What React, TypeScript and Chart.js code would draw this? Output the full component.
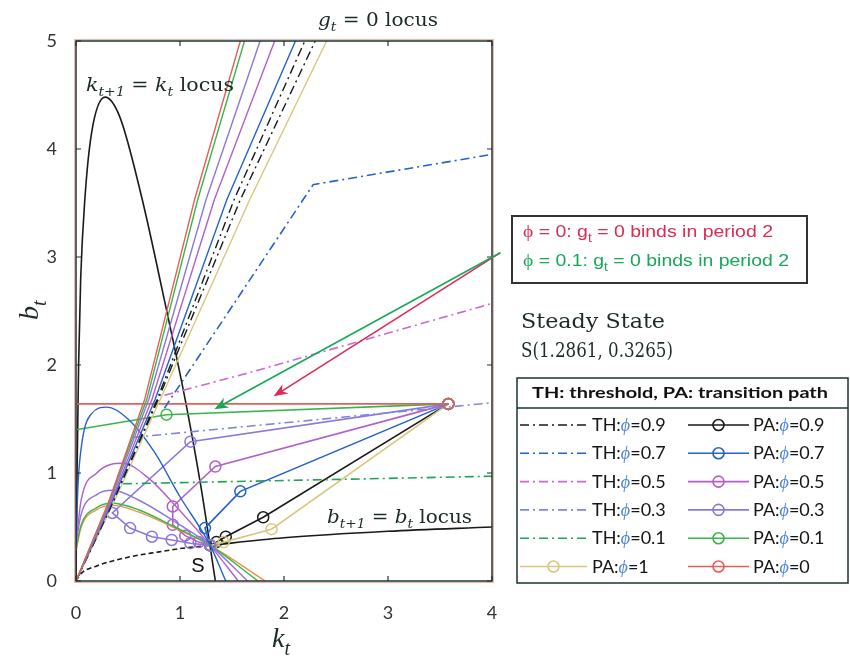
import React, { useEffect, useRef } from 'react';
import { Chart, registerables } from 'chart.js';
Chart.register(...registerables);

// ---------- tick labels ----------
const kTicks = [0, 1, 2, 3, 4];
const bTicks = [0, 1, 2, 3, 4, 5];

// ---------- loci ----------
const kLocusK = [0, 0.01, 0.025, 0.045, 0.087, 0.15, 0.28, 0.42, 0.63, 0.85, 1.05, 1.2, 1.34];
const kLocusB = [0, 1.0, 2.0, 2.8, 3.56, 4.15, 4.48, 4.3, 3.56, 2.6, 1.68, 0.88, 0];
const bLocusK = [0, 0.05, 0.2, 0.5, 0.8, 1.0, 1.29, 2, 3, 4];
const bLocusB = [0, 0.07, 0.14, 0.22, 0.27, 0.3, 0.33, 0.4, 0.46, 0.5];

// g_t = 0 loci (one per phi)
const fanB = [0, 0.72, 1.68, 3.53, 5];
const fanK0 = [0, 0.31, 0.66, 1.14, 1.58];
const fanK01 = [0, 0.31, 0.68, 1.17, 1.62];
const fanK03 = [0, 0.32, 0.7, 1.25, 1.77];
const fanK05 = [0, 0.33, 0.73, 1.33, 1.91];
const fanK07 = [0, 0.34, 0.76, 1.45, 2.11];
const fanK09 = [0, 0.35, 0.78, 1.52, 2.2];
const fanK09b = [0, 0.35, 0.79, 1.58, 2.3];
const fanK1 = [0, 0.36, 0.81, 1.67, 2.41];

// thresholds
const th07K = [0.85, 2.28, 4];
const th07B = [1.6, 3.67, 3.95];
const th05K = [0.85, 1.67, 4];
const th05B = [1.72, 1.93, 2.57];
const th03K = [0.55, 4];
const th03B = [1.33, 1.65];
const th01K = [0.45, 4];
const th01B = [0.9, 0.97];

// transition paths from (3.58, 1.64)
const pa09K = [3.58, 1.8, 1.44, 1.35, 1.29];
const pa09B = [1.64, 0.59, 0.41, 0.36, 0.33];
const pa1K = [3.58, 1.88, 1.42, 1.3];
const pa1B = [1.64, 0.48, 0.36, 0.33];
const pa07K = [3.58, 1.58, 1.24, 1.29];
const pa07B = [1.64, 0.83, 0.49, 0.33];
const pa05K = [3.58, 1.34, 0.93, 0.93, 1.05, 1.18, 1.29];
const pa05B = [1.64, 1.06, 0.69, 0.52, 0.42, 0.36, 0.33];
const pa03K = [3.58, 1.1, 0.35, 0.52, 0.73, 0.92, 1.1, 1.29];
const pa03B = [1.64, 1.29, 0.63, 0.49, 0.41, 0.38, 0.35, 0.33];
const pa01K = [3.58, 0.87, 0];
const pa01B = [1.64, 1.54, 1.4];
const pa0K = [3.58, 0];
const pa0B = [1.64, 1.64];

// paths from low initial capital
const lowBlueK = [0, 0.02, 0.06, 0.15, 0.3, 0.5, 0.75, 1.0, 1.29, 1.44];
const lowBlueB = [0.35, 0.9, 1.3, 1.55, 1.61, 1.5, 1.2, 0.78, 0.33, 0];
const lowPurpleK = [0, 0.05, 0.2, 0.45, 0.7, 1.0, 1.29, 1.56];
const lowPurpleB = [0.35, 0.75, 1.0, 1.09, 0.95, 0.65, 0.33, 0];
const lowVioletK = [0, 0.05, 0.2, 0.35, 0.6, 0.95, 1.29, 1.65];
const lowVioletB = [0.35, 0.62, 0.8, 0.84, 0.75, 0.55, 0.33, 0];
const lowGreenK = [0, 0.05, 0.2, 0.35, 0.6, 0.95, 1.29, 1.75];
const lowGreenB = [0.3, 0.52, 0.68, 0.72, 0.66, 0.5, 0.33, 0];
const lowRedK = [0, 0.05, 0.2, 0.35, 0.6, 0.95, 1.29, 1.82];
const lowRedB = [0.28, 0.5, 0.66, 0.7, 0.64, 0.49, 0.33, 0];

// annotation arrows (data coords): start, red tip, green tip
const arrowStart = [4.08, 3.04];
const arrowRedTip = [1.9, 1.71];
const arrowGreenTip = [1.33, 1.59];

// legend
const legendLeft = ['TH:0.9', 'TH:0.7', 'TH:0.5', 'TH:0.3', 'TH:0.1', 'PA:1'];
const legendRight = ['PA:0.9', 'PA:0.7', 'PA:0.5', 'PA:0.3', 'PA:0.1', 'PA:0'];

// ---------- styles ----------
const C_BLACK = '#1a1a1a';
const C_BLUE = '#2563c9';
const C_PURPLE = '#b35fca';
const C_VIOLET = '#8a78dc';
const C_GREEN = '#3ab54a';
const C_GREEN_TH = '#22a35a';
const C_YELLOW = '#d8c77e';
const C_RED = '#e2605a';
const C_ORANGE = '#e8944a';
const FRAME = '#1e3333';
const DASHDOT = [9, 4, 2, 4];

const legendColors: Record<string, string> = {
  'TH:0.9': C_BLACK, 'TH:0.7': C_BLUE, 'TH:0.5': '#c96ad2', 'TH:0.3': '#7f86e0', 'TH:0.1': C_GREEN_TH, 'PA:1': C_YELLOW,
  'PA:0.9': C_BLACK, 'PA:0.7': C_BLUE, 'PA:0.5': C_PURPLE, 'PA:0.3': C_VIOLET, 'PA:0.1': C_GREEN, 'PA:0': C_RED,
};

const pts = (K: number[], B: number[]) => K.map((k, i) => ({ x: k, y: B[i] }));

function line(K: number[], B: number[], color: string, extra: any = {}) {
  return {
    data: pts(K, B),
    borderColor: color,
    backgroundColor: color,
    borderWidth: 1.4,
    pointRadius: 0,
    fill: false,
    tension: 0,
    ...extra,
  };
}
const SMOOTH = { cubicInterpolationMode: 'monotone' };
function path(K: number[], B: number[], color: string, radii?: number[]) {
  return line(K, B, color, {
    borderWidth: 1.6,
    pointRadius: radii || K.map(() => 5.5),
    pointBorderColor: color,
    pointBackgroundColor: 'rgba(0,0,0,0)',
    pointBorderWidth: 1.5,
    pointStyle: 'circle',
  });
}

type Run = { t: string; it?: boolean; sub?: boolean; color?: string; fam?: string; bold?: boolean };

function drawRuns(ctx: CanvasRenderingContext2D, runs: Run[], x: number, y: number, size: number, fam: string, color: string, targetW?: number) {
  const fontOf = (r: Run) => `${r.it ? 'italic ' : ''}${r.bold ? 'bold ' : ''}${r.sub ? Math.round(size * 0.7) : size}px ${r.fam || fam}`;
  let w = 0;
  for (const r of runs) { ctx.font = fontOf(r); w += ctx.measureText(r.t).width; }
  const sx = targetW ? targetW / w : 1;
  ctx.save();
  ctx.translate(x, y);
  ctx.scale(sx, 1);
  ctx.textAlign = 'left';
  ctx.textBaseline = 'alphabetic';
  let cx = 0;
  for (const r of runs) {
    ctx.font = fontOf(r);
    ctx.fillStyle = r.color || color;
    ctx.fillText(r.t, cx, r.sub ? size * 0.28 : 0);
    cx += ctx.measureText(r.t).width;
  }
  ctx.restore();
}

function drawArrow(ctx: CanvasRenderingContext2D, x1: number, y1: number, x2: number, y2: number, color: string) {
  const ang = Math.atan2(y2 - y1, x2 - x1);
  const L = 14, W = 5.5;
  ctx.save();
  ctx.strokeStyle = color; ctx.fillStyle = color; ctx.lineWidth = 1.6;
  ctx.beginPath();
  ctx.moveTo(x1, y1);
  ctx.lineTo(x2 - Math.cos(ang) * L * 0.7, y2 - Math.sin(ang) * L * 0.7);
  ctx.stroke();
  ctx.translate(x2, y2); ctx.rotate(ang);
  ctx.beginPath();
  ctx.moveTo(0, 0); ctx.lineTo(-L, -W); ctx.lineTo(-L * 0.7, 0); ctx.lineTo(-L, W); ctx.closePath();
  ctx.fill();
  ctx.restore();
}

const SERIF = '"DejaVu Serif"';
const SANS = '"Liberation Sans"';
const LEG = 'Lato';

const overlay = {
  id: 'overlay',
  afterDatasetsDraw(chart: any) {
    const { ctx, chartArea: a, scales } = chart;
    const x = scales.x, y = scales.y;
    ctx.save();
    // faint reddish outer rim, then dark frame
    ctx.strokeStyle = 'rgba(230,120,100,0.55)'; ctx.lineWidth = 1;
    ctx.strokeRect(a.left - 1.5, a.top - 1.5, a.right - a.left + 3, a.bottom - a.top + 3);
    ctx.strokeStyle = FRAME; ctx.lineWidth = 1.5;
    ctx.strokeRect(a.left, a.top, a.right - a.left, a.bottom - a.top);
    ctx.lineWidth = 1.2;
    ctx.beginPath();
    for (const t of kTicks) {
      const px = x.getPixelForValue(t);
      ctx.moveTo(px, a.bottom); ctx.lineTo(px, a.bottom - 5);
      ctx.moveTo(px, a.top); ctx.lineTo(px, a.top + 5);
    }
    for (const t of bTicks) {
      const py = y.getPixelForValue(t);
      ctx.moveTo(a.left, py); ctx.lineTo(a.left + 5, py);
      ctx.moveTo(a.right, py); ctx.lineTo(a.right - 5, py);
    }
    ctx.stroke();
    ctx.restore();
  },
  afterDraw(chart: any) {
    const { ctx, scales } = chart;
    const x = scales.x, y = scales.y;
    const X = (k: number) => x.getPixelForValue(k);
    const Y = (b: number) => y.getPixelForValue(b);
    ctx.save();
    const DARK = '#1c2a2a';

    // locus labels
    drawRuns(ctx, [{ t: 'k', it: true }, { t: 't+1', it: true, sub: true }, { t: ' = ' }, { t: 'k', it: true }, { t: 't', it: true, sub: true }, { t: ' locus' }], 86, 91, 19, SERIF, DARK, 148);
    drawRuns(ctx, [{ t: 'g', it: true }, { t: 't', it: true, sub: true }, { t: ' = 0 locus' }], 318, 26, 19, SERIF, DARK, 120);
    drawRuns(ctx, [{ t: 'b', it: true }, { t: 't+1', it: true, sub: true }, { t: ' = ' }, { t: 'b', it: true }, { t: 't', it: true, sub: true }, { t: ' locus' }], 327, 523, 19, SERIF, DARK, 145);

    // S label
    ctx.font = `20px ${SANS}`; ctx.fillStyle = '#111'; ctx.textAlign = 'center'; ctx.textBaseline = 'alphabetic';
    ctx.fillText('S', 198, 572);

    // axis titles
    drawRuns(ctx, [{ t: 'k', it: true }, { t: 't', it: true, sub: true }], 272, 647, 28, '"Liberation Serif"', DARK);
    ctx.save();
    ctx.translate(38, 320); ctx.rotate(-Math.PI / 2);
    drawRuns(ctx, [{ t: 'b', it: true }, { t: 't', it: true, sub: true }], 0, 0, 28, '"Liberation Serif"', DARK);
    ctx.restore();

    // annotation arrows
    drawArrow(ctx, X(arrowStart[0]), Y(arrowStart[1]), X(arrowRedTip[0]), Y(arrowRedTip[1]), '#dc2b55');
    drawArrow(ctx, X(arrowStart[0]), Y(arrowStart[1]), X(arrowGreenTip[0]), Y(arrowGreenTip[1]), '#19a85a');

    // annotation box
    ctx.fillStyle = '#fff';
    ctx.fillRect(512, 216, 295, 67);
    ctx.strokeStyle = '#333'; ctx.lineWidth = 2;
    ctx.strokeRect(512, 216, 295, 67);
    drawRuns(ctx, [{ t: 'ϕ', fam: '"Liberation Serif"' }, { t: ' = 0: g' }, { t: 't', sub: true }, { t: ' = 0 binds in period 2' }], 523, 237, 17, SANS, '#dc2b55', 250);
    drawRuns(ctx, [{ t: 'ϕ', fam: '"Liberation Serif"' }, { t: ' = 0.1: g' }, { t: 't', sub: true }, { t: ' = 0 binds in period 2' }], 523, 266, 17, SANS, '#19a85a', 266);

    // steady state
    drawRuns(ctx, [{ t: 'Steady State' }], 521, 328, 21, SERIF, DARK, 144);
    drawRuns(ctx, [{ t: 'S(1.2861, 0.3265)' }], 521, 357, 21, SERIF, DARK, 152);

    // legend
    ctx.fillStyle = '#fff';
    ctx.fillRect(517, 378, 331, 205);
    ctx.strokeStyle = '#1e3333'; ctx.lineWidth = 1.5;
    ctx.strokeRect(517, 378, 331, 205);
    ctx.beginPath(); ctx.moveTo(517, 408); ctx.lineTo(848, 408); ctx.stroke();
    drawRuns(ctx, [{ t: 'TH: threshold, PA: transition path', bold: true }], 532, 398, 16, LEG, '#111', 296);

    const drawEntry = (key: string, lx0: number, lx1: number, tx: number, yy: number) => {
      const col = legendColors[key];
      const [kind, phi] = key.split(':');
      ctx.save();
      ctx.strokeStyle = col; ctx.lineWidth = 1.6;
      ctx.setLineDash(kind === 'TH' ? DASHDOT : []);
      ctx.beginPath(); ctx.moveTo(lx0, yy); ctx.lineTo(lx1, yy); ctx.stroke();
      ctx.setLineDash([]);
      if (kind === 'PA') {
        ctx.beginPath(); ctx.arc((lx0 + lx1) / 2, yy, 5.5, 0, Math.PI * 2); ctx.stroke();
      }
      ctx.restore();
      drawRuns(ctx, [{ t: kind + ':' }, { t: 'ϕ', it: true, fam: '"Liberation Serif"', color: '#4f86d6' }, { t: '=' + phi }], tx, yy + 6, 18, LEG, '#151515');
    };
    for (let i = 0; i < 6; i++) {
      const yy = 425 + i * 28.3;
      drawEntry(legendLeft[i], 520, 587, 592, yy);
      drawEntry(legendRight[i], 688, 749, 753, yy);
    }
    ctx.restore();
  },
};

export default function App() {
  const ref = useRef<HTMLCanvasElement>(null);
  useEffect(() => {
    if (!ref.current) return;
    const datasets: any[] = [
      // g_t = 0 loci
      line(fanK0, fanB, C_RED),
      line(fanK01, fanB, C_GREEN),
      line(fanK03, fanB, C_VIOLET),
      line(fanK05, fanB, C_PURPLE),
      line(fanK07, fanB, C_BLUE),
      line(fanK09, fanB, C_BLACK, { borderDash: DASHDOT }),
      line(fanK09b, fanB, C_BLACK, { borderDash: DASHDOT }),
      line(fanK1, fanB, C_YELLOW),
      // thresholds
      line(th07K, th07B, C_BLUE, { borderDash: DASHDOT, borderWidth: 1.6 }),
      line(th05K, th05B, '#c96ad2', { borderDash: DASHDOT, borderWidth: 1.6 }),
      line(th03K, th03B, '#7f86e0', { borderDash: DASHDOT, borderWidth: 1.6 }),
      line(th01K, th01B, C_GREEN_TH, { borderDash: DASHDOT, borderWidth: 1.6 }),
      // low-capital paths
      line(lowBlueK, lowBlueB, C_BLUE, SMOOTH),
      line(lowPurpleK, lowPurpleB, C_PURPLE, SMOOTH),
      line(lowVioletK, lowVioletB, C_VIOLET, SMOOTH),
      line(lowGreenK, lowGreenB, C_GREEN, SMOOTH),
      line(lowRedK, lowRedB, C_ORANGE, SMOOTH),
      // transition paths
      path(pa0K, pa0B, C_RED, [5.5, 0]),
      path(pa01K, pa01B, C_GREEN, [5.5, 5.5, 0]),
      path(pa03K, pa03B, C_VIOLET),
      path(pa05K, pa05B, C_PURPLE),
      path(pa07K, pa07B, C_BLUE),
      path(pa1K, pa1B, C_YELLOW),
      path(pa09K, pa09B, C_BLACK),
      // loci
      line(kLocusK, kLocusB, C_BLACK, { borderWidth: 1.6, ...SMOOTH }),
      line(bLocusK, bLocusB, C_BLACK, {
        borderWidth: 1.6,
        ...SMOOTH,
        segment: { borderDash: (c: any) => (c.p1.parsed.x <= 1.29 ? [5, 3] : undefined) },
      }),
    ];
    const chart = new Chart(ref.current, {
      type: 'line',
      data: { datasets },
      options: {
        animation: false,
        responsive: true,
        maintainAspectRatio: false,
        layout: { padding: { left: 36, right: 358, top: 41, bottom: 33 } },
        plugins: { legend: { display: false }, tooltip: { enabled: false } },
        scales: {
          x: {
            type: 'linear', min: 0, max: 4,
            afterBuildTicks: (s: any) => { s.ticks = kTicks.map((v) => ({ value: v })); },
            grid: { display: false }, border: { display: false },
            ticks: { font: { family: 'Lato', size: 18 }, color: '#333', padding: 13 },
            afterFit: (s: any) => { s.height = 50; },
          },
          y: {
            type: 'linear', min: 0, max: 5,
            afterBuildTicks: (s: any) => { s.ticks = bTicks.map((v) => ({ value: v })); },
            grid: { display: false }, border: { display: false },
            ticks: { font: { family: 'Lato', size: 18 }, color: '#333', padding: 11 },
            afterFit: (s: any) => { s.width = 40; },
          },
        },
      } as any,
      plugins: [overlay],
    });
    return () => chart.destroy();
  }, []);
  return (
    <div style={{ position: 'fixed', left: 0, top: 0, width: 850, height: 664, background: '#fff' }}>
      <canvas ref={ref} />
    </div>
  );
}
